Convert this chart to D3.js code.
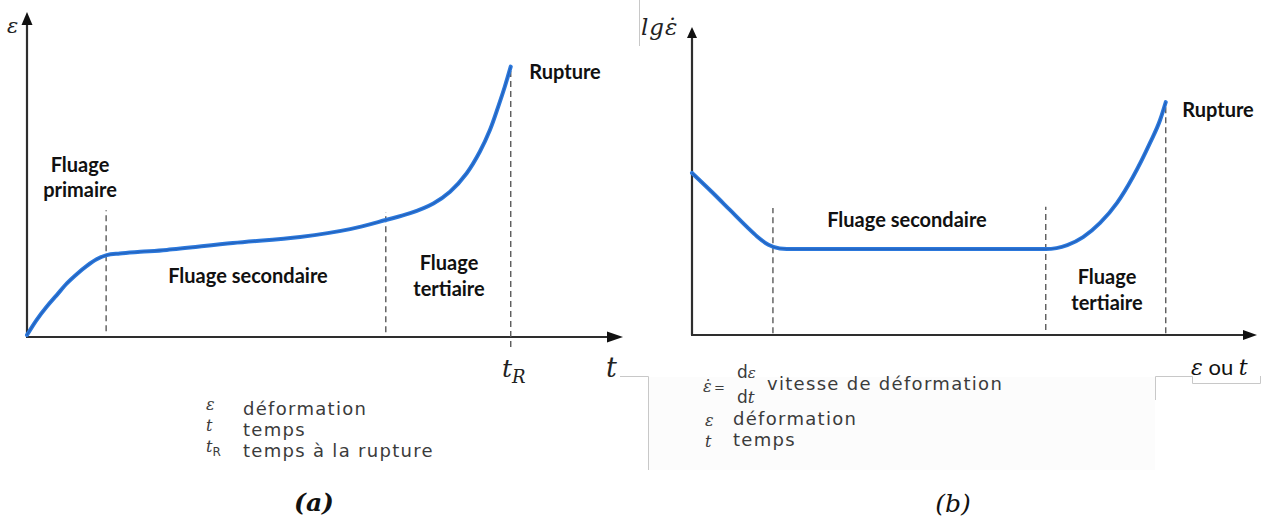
<!DOCTYPE html>
<html>
<head>
<meta charset="utf-8">
<script src="https://cdn.jsdelivr.net/npm/d3@7"></script>
<style>
  body { margin: 0; background: #fff; }
  svg { display: block; }
</style>
</head>
<body>
<svg id="chart" width="1266" height="520"></svg>
<script>
// ---- Panel (a): creep strain ε against time t ----
const strainTime  = [0, 1.6, 3.3, 5.0, 6.7, 8.4, 10.0, 11.7, 13.4, 15.6, 19.0, 23.5, 34.6, 45.9, 54.3, 60.3,
                     64.4, 68.3, 71.1, 73.9, 76.1, 77.8, 79.2, 80.3, 81.3];
const strainValue = [0.6, 5.2, 9.3, 12.9, 16.5, 19.4, 21.8, 23.9, 25.2, 25.7, 26.2, 26.8, 28.9, 30.8, 33.2, 36.0,
                     38.1, 41.1, 44.7, 50.4, 57.0, 63.7, 70.9, 77.0, 83.2];
// stage boundaries (time) and the strain span of each boundary marker
const strainBounds    = [13.3, 60.3, 81.3];
const strainBoundLow  = [1.8, 1.5, -3.1];
const strainBoundHigh = [39.0, 38.5, 83.2];

// ---- Panel (b): log strain rate against ε or t ----
const rateX     = [0, 3.7, 6.7, 9.7, 11.5, 13.5, 15.5, 18, 40, 62.5, 66.3, 69.1, 72.1, 75.1, 77.9, 80.9, 82.7, 83.7];
const rateValue = [52.6, 46.1, 40.6, 35.1, 32.0, 29.3, 28.1, 27.9, 27.9, 27.9, 29.2, 31.8, 36.4, 42.9, 51.3, 62.3, 69.8, 75.6];
const rateBounds    = [14.3, 62.5, 83.7];
const rateBoundLow  = [0.6, 1.6, 0.6];
const rateBoundHigh = [41.2, 41.6, 75.6];

// legend entries
const legendA = [["ε", "déformation"], ["t", "temps"], ["tR", "temps à la rupture"]];
const legendB = [["ε", "déformation"], ["t", "temps"]];

const svg = d3.select("#chart");

const MATH = "'DejaVu Serif', serif";
const SANS = "'DejaVu Sans', 'Liberation Sans', sans-serif";
const LABEL = "Lato, 'Open Sans', sans-serif";
const CURVE = "#2b78dc";
const AXIS = "#2e2e2e";
const DASH = "#5a5a5a";
const LEGEND = "#3b3b3b";
const DOT = "\u0307";
const LEG_SIZE = 18;
const LEG_SPACING = 1.3;

function arrowHead(g, tip, dir, len, half) {
  const [x, y] = tip;
  const pts = dir === "up"
    ? [[x, y], [x - half, y + len], [x + half, y + len]]
    : [[x, y], [x - len, y - half], [x - len, y + half]];
  g.append("path").attr("d", d3.line()(pts) + "Z").attr("fill", "#111");
}

function drawPanel(opts) {
  const { x, y, xs, ys, bounds, lo, hi, g } = opts;
  const [x0] = x.range();
  const [y0] = y.range();

  // axes: line from the origin, closed by an arrow head
  const ax = g.append("g");
  ax.append("line").attr("x1", x0).attr("y1", y0).attr("x2", x0).attr("y2", opts.yTip + 8)
    .attr("stroke", AXIS).attr("stroke-width", 2.2);
  ax.append("line").attr("x1", x0 - 1).attr("y1", y0).attr("x2", opts.xTip - 10).attr("y2", y0)
    .attr("stroke", AXIS).attr("stroke-width", 2.2);
  arrowHead(ax, [x0, opts.yTip], "up", opts.ahLen, opts.ahHalf);
  arrowHead(ax, [opts.xTip, y0], "right", opts.ahLen + 3, opts.ahHalf);

  // stage boundaries
  g.append("g").selectAll("line").data(bounds).join("line")
    .attr("x1", d => x(d)).attr("x2", d => x(d))
    .attr("y1", (d, i) => y(lo[i])).attr("y2", (d, i) => y(hi[i]))
    .attr("stroke", DASH).attr("stroke-width", 1.4)
    .attr("stroke-dasharray", "6,4");

  // curve
  const pts = xs.map((v, i) => [v, ys[i]]);
  const line = d3.line().x(d => x(d[0])).y(d => y(d[1])).curve(opts.curve);
  g.append("path").attr("d", line(pts)).attr("fill", "none")
    .attr("stroke", CURVE).attr("stroke-width", 4).attr("stroke-linecap", "round");
  g.append("path").attr("d", line(pts)).attr("fill", "none")
    .attr("stroke", "#1d4f9e").attr("stroke-width", 1.2).attr("stroke-opacity", 0.55);
}

function boldLabel(g, lines, cx, baseline, lead) {
  const t = g.append("text").attr("font-family", LABEL).attr("font-weight", 700)
    .attr("font-size", 20).attr("fill", "#111").attr("text-anchor", "middle");
  lines.forEach((s, i) => t.append("tspan").attr("x", cx).attr("y", baseline + i * lead).text(s));
}

function legendText(g, x, y, s) {
  g.append("text").attr("x", x).attr("y", y).attr("font-family", SANS)
    .attr("font-size", LEG_SIZE).attr("letter-spacing", LEG_SPACING).text(s);
}

// ================= Panel (a) =================
const gA = svg.append("g");
const xA = d3.scaleLinear().domain([0, 100]).range([27, 622]);
const yA = d3.scaleLinear().domain([0, 100]).range([337, 12]);
drawPanel({ g: gA, x: xA, y: yA, xs: strainTime, ys: strainValue,
  bounds: strainBounds, lo: strainBoundLow, hi: strainBoundHigh,
  yTip: 12, xTip: 623, ahLen: 13, ahHalf: 5.5, curve: d3.curveCatmullRom.alpha(0.5) });

gA.append("text").attr("x", 7).attr("y", 33).attr("font-family", MATH).attr("font-style", "italic")
  .attr("font-size", 21).attr("fill", "#222").text("ε");
const tR = gA.append("text").attr("x", 502).attr("y", 377).attr("font-family", MATH)
  .attr("font-style", "italic").attr("font-size", 25).attr("fill", "#222");
tR.append("tspan").text("t");
tR.append("tspan").attr("font-size", 18).attr("dy", 6).text("R");
gA.append("text").attr("x", 606).attr("y", 377).attr("font-family", MATH).attr("font-style", "italic")
  .attr("font-size", 27).attr("fill", "#222").text("t");

boldLabel(gA, ["Rupture"], 565, 79, 0);
boldLabel(gA, ["Fluage", "primaire"], 80, 172, 25);
boldLabel(gA, ["Fluage secondaire"], 248, 283, 0);
boldLabel(gA, ["Fluage", "tertiaire"], 449, 270, 26);

// legend (a)
const legA = gA.append("g").attr("fill", LEGEND);
const legABase = [415, 436, 457];
legendA.forEach((row, i) => {
  const sym = legA.append("text").attr("x", 206).attr("y", legABase[i] - 5)
    .attr("font-family", MATH).attr("font-style", "italic").attr("font-size", 16);
  if (row[0] === "tR") {
    sym.append("tspan").text("t");
    sym.append("tspan").attr("font-style", "normal").attr("font-family", SANS)
      .attr("font-size", 12).attr("dy", 4).text("R");
  } else {
    sym.text(row[0]);
  }
  legendText(legA, 243, legABase[i], row[1]);
});

gA.append("text").attr("x", 314).attr("y", 511).attr("text-anchor", "middle")
  .attr("font-family", MATH).attr("font-style", "italic").attr("font-weight", 700)
  .attr("font-size", 25).attr("fill", "#111").text("(a)");

// ================= Panel (b) =================
const gB = svg.append("g");
const xB = d3.scaleLinear().domain([0, 100]).range([692, 1258]);
const yB = d3.scaleLinear().domain([0, 100]).range([335, 27]);

// thin frame edges around the caption boxes
const frame = gB.append("g").attr("stroke", "#c8c8c8").attr("stroke-width", 1).attr("fill", "none");
frame.append("path").attr("d", "M639.5,0V46");
frame.append("path").attr("d", "M620,376.5H648.5V470");
frame.append("path").attr("d", "M1155.5,400V376.5H1192.5V383.5H1260.5V376");
gB.append("rect").attr("x", 649).attr("y", 377).attr("width", 506).attr("height", 93).attr("fill", "#fcfcfc");

drawPanel({ g: gB, x: xB, y: yB, xs: rateX, ys: rateValue,
  bounds: rateBounds, lo: rateBoundLow, hi: rateBoundHigh,
  yTip: 27, xTip: 1257, ahLen: 11, ahHalf: 5, curve: d3.curveMonotoneX });

gB.append("text").attr("x", 641).attr("y", 35).attr("font-family", MATH)
  .attr("font-style", "italic").attr("font-size", 23).attr("fill", "#222").attr("letter-spacing", 1)
  .text("lgε" + DOT);

const eo = gB.append("text").attr("x", 1191).attr("y", 375).attr("fill", "#111").attr("font-size", 22);
eo.append("tspan").attr("font-family", MATH).attr("font-style", "italic").text("ε");
eo.append("tspan").attr("font-family", LABEL).text(" ou ");
eo.append("tspan").attr("font-family", MATH).attr("font-style", "italic").text("t");

boldLabel(gB, ["Rupture"], 1218, 117, 0);
boldLabel(gB, ["Fluage secondaire"], 907, 227, 0);
boldLabel(gB, ["Fluage", "tertiaire"], 1107, 284, 26);

// legend (b): strain-rate definition, then symbols
const legB = gB.append("g").attr("fill", LEGEND);
legB.append("text").attr("x", 703).attr("y", 392).attr("font-family", MATH)
  .attr("font-style", "italic").attr("font-size", 16).text("ε" + DOT);
legB.append("text").attr("x", 714).attr("y", 392).attr("font-family", SANS)
  .attr("font-size", 13).text("=");
const num = legB.append("text").attr("x", 737).attr("y", 378).attr("font-family", SANS).attr("font-size", 17);
num.append("tspan").text("d");
num.append("tspan").attr("font-family", MATH).attr("font-style", "italic").attr("font-size", 15).text("ε");
const den = legB.append("text").attr("x", 737).attr("y", 403).attr("font-family", SANS).attr("font-size", 17);
den.append("tspan").text("d");
den.append("tspan").attr("font-family", MATH).attr("font-style", "italic").attr("font-size", 17).text("t");
legendText(legB, 767, 390, "vitesse de déformation");

const legBBase = [425, 446];
legendB.forEach((row, i) => {
  legB.append("text").attr("x", 705).attr("y", legBBase[i] + 1)
    .attr("font-family", MATH).attr("font-style", "italic").attr("font-size", 16).text(row[0]);
  legendText(legB, 733, legBBase[i], row[1]);
});

gB.append("text").attr("x", 953).attr("y", 512).attr("text-anchor", "middle")
  .attr("font-family", MATH).attr("font-style", "italic")
  .attr("font-size", 25).attr("fill", "#111").text("(b)");
</script>
</body>
</html>
